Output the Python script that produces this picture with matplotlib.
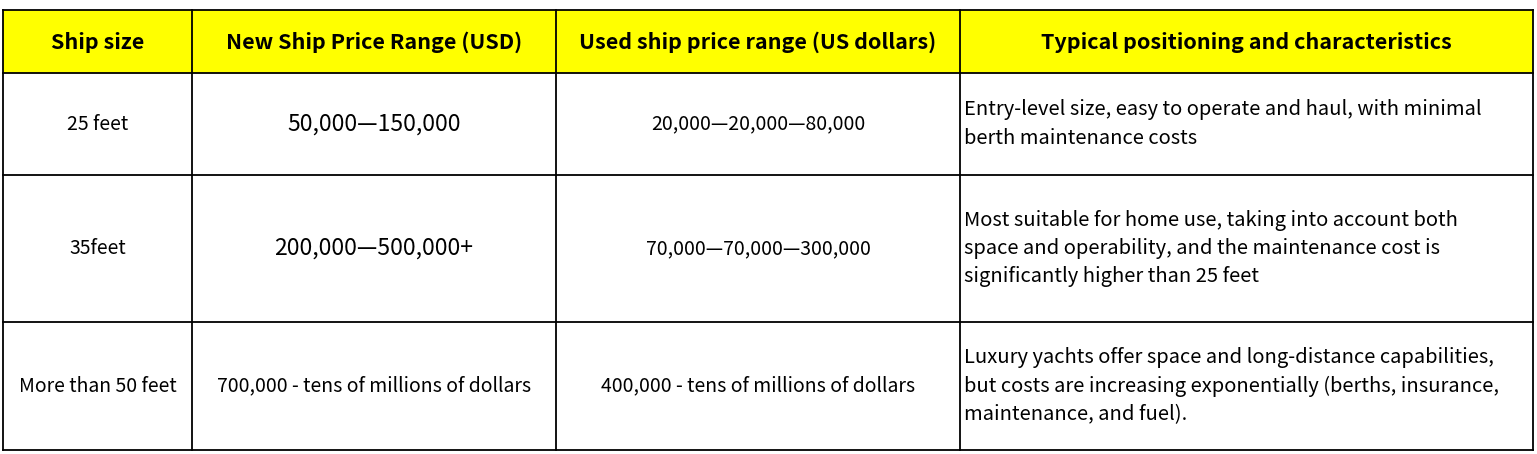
import matplotlib
matplotlib.use("Agg")
import matplotlib.pyplot as plt
from matplotlib.patches import Rectangle

headers = ["Ship size", "New Ship Price Range (USD)", "Used ship price range (US dollars)",
           "Typical positioning and characteristics"]
sizes = ["25 feet", "35feet", "More than 50 feet"]
new_prices = ["50,000\u2014150,000", "200,000\u2014500,000+", "700,000 - tens of millions of dollars"]
used_prices = ["20,000\u201420,000\u201480,000", "70,000\u201470,000\u2014300,000", "400,000 - tens of millions of dollars"]
descriptions = [
    "Entry-level size, easy to operate and haul, with minimal\nberth maintenance costs",
    "Most suitable for home use, taking into account both\nspace and operability, and the maintenance cost is\nsignificantly higher than 25 feet",
    "Luxury yachts offer space and long-distance capabilities,\nbut costs are increasing exponentially (berths, insurance,\nmaintenance, and fuel).",
]

W, H = 1537, 454
fig = plt.figure(figsize=(W / 100, H / 100), dpi=100)
ax = fig.add_axes([0, 0, 1, 1])
ax.set_xlim(0, W)
ax.set_ylim(H, 0)
ax.axis("off")

cols = [3, 192, 556, 960, 1533]
rows = [10, 73, 175, 322, 450]
font = "Noto Sans CJK SC"

ax.add_patch(Rectangle((cols[0], rows[0]), cols[-1] - cols[0], rows[1] - rows[0],
                       facecolor="#FFFF00", edgecolor="none"))
for x in cols:
    ax.plot([x, x], [rows[0], rows[-1]], color="black", lw=1.3)
for y in rows:
    ax.plot([cols[0], cols[-1]], [y, y], color="black", lw=1.3)

for i, h in enumerate(headers):
    ax.text((cols[i] + cols[i + 1]) / 2, (rows[0] + rows[1]) / 2 + 1, h, ha="center", va="center",
            fontsize=15.5, fontweight="bold", family=font)

for r in range(3):
    cy = (rows[r + 1] + rows[r + 2]) / 2
    ax.text((cols[0] + cols[1]) / 2, cy, sizes[r], ha="center", va="center", fontsize=14, family=font)
    fs = 16.5 if r < 2 else 14
    ax.text((cols[1] + cols[2]) / 2, cy, new_prices[r], ha="center", va="center", fontsize=fs, family=font)
    ax.text((cols[2] + cols[3]) / 2, cy, used_prices[r], ha="center", va="center", fontsize=14, family=font)
    ax.text(cols[3] + 4, cy, descriptions[r], ha="left", va="center", fontsize=14.5, family=font,
            linespacing=1.45)

fig.savefig("out.png", dpi=100)
